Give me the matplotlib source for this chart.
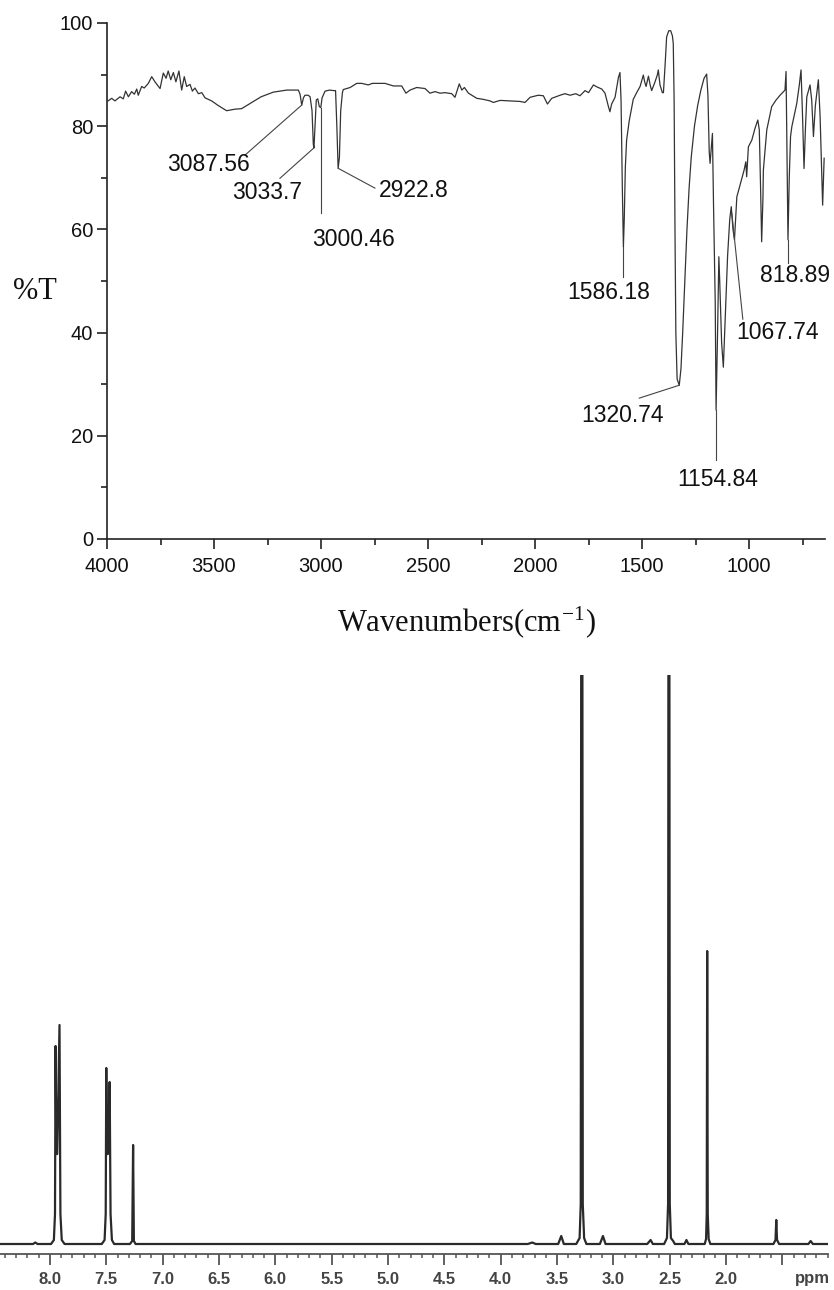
import matplotlib
matplotlib.use("Agg")
import matplotlib.pyplot as plt
from matplotlib.ticker import MultipleLocator, FixedLocator

# ---------------- IR data (wavenumber, %T) ----------------
ir_wn = [3995, 3978, 3963, 3939, 3924, 3913, 3900, 3885, 3872, 3861, 3854, 3838, 3826, 3807,
         3791, 3776, 3752, 3737, 3724, 3714, 3702, 3690, 3678, 3664, 3651, 3639, 3628, 3612,
         3601, 3589, 3573, 3557, 3542, 3511, 3480, 3441, 3402, 3371, 3324, 3280, 3223, 3160,
         3106, 3098, 3090, 3082, 3075, 3060, 3051, 3042, 3036, 3033, 3028, 3022, 3015, 3008,
         3001, 2995, 2981, 2960, 2942, 2932, 2926, 2920, 2914, 2908, 2900, 2896, 2864, 2833,
         2810, 2779, 2760, 2701, 2662, 2623, 2603, 2584, 2553, 2514, 2491, 2467, 2444, 2420,
         2389, 2374, 2354, 2342, 2330, 2311, 2272, 2241, 2210, 2195, 2163, 2117, 2070, 2047,
         2023, 1985, 1961, 1942, 1922, 1883, 1860, 1836, 1810, 1790, 1766, 1750, 1727, 1710,
         1688, 1673, 1657, 1650, 1642, 1626, 1610, 1603, 1598, 1592, 1587, 1583, 1578, 1572,
         1560, 1541, 1525, 1509, 1500, 1494, 1487, 1481, 1470, 1462, 1455, 1440, 1428, 1424,
         1416, 1405, 1400, 1392, 1385, 1375, 1366, 1358, 1354, 1350, 1346, 1342, 1336, 1326,
         1318, 1310, 1300, 1290, 1280, 1270, 1255, 1240, 1225, 1210, 1198, 1192, 1186, 1182,
         1176, 1171, 1166, 1158, 1154, 1147, 1141, 1137, 1128, 1120, 1112, 1100, 1090, 1083,
         1075, 1068, 1060, 1057, 1042, 1023, 1015, 1011, 1003, 987, 972, 959, 952, 946, 941,
         935, 933, 917, 894, 875, 855, 832, 827, 824, 818, 812, 806, 800, 777, 765, 757, 750,
         743, 736, 730, 715, 707, 699, 690, 676, 668, 660, 656, 649]
ir_T = [84.9, 85.4, 84.9, 85.7, 85.3, 86.8, 85.7, 86.7, 86.2, 87.2, 86.0, 87.7, 87.4, 88.3,
        89.6, 88.6, 87.3, 90.3, 89.3, 90.7, 89.0, 90.4, 88.6, 90.7, 87.0, 89.6, 87.7, 88.1,
        86.8, 87.4, 86.3, 86.5, 85.5, 84.9, 84.0, 83.0, 83.3, 83.4, 84.6, 85.7, 86.6, 87.0,
        87.0, 86.2, 84.1, 85.5, 86.0, 86.0, 85.7, 83.0, 76.5, 75.8, 80.0, 85.1, 85.3, 83.8,
        83.6, 85.5, 86.8, 87.0, 86.9, 86.9, 80.0, 71.8, 74.0, 83.0, 86.5, 87.1, 87.5, 88.3,
        88.3, 88.0, 88.3, 88.3, 87.8, 87.8, 86.4, 87.0, 87.5, 87.3, 86.4, 86.7, 86.4, 86.5,
        86.3, 85.6, 88.2, 87.0, 87.5, 86.4, 85.4, 85.2, 84.9, 84.6, 85.0, 84.9, 84.8, 84.6,
        85.6, 86.0, 85.9, 84.3, 85.4, 86.0, 86.3, 86.0, 86.3, 85.9, 86.9, 86.5, 88.0, 87.6,
        87.2, 86.4, 83.8, 82.8, 84.3, 85.6, 89.5, 90.4, 85.0, 68.0, 56.6, 62.0, 72.0, 77.3,
        81.0, 85.2, 86.5, 87.7, 89.0, 89.9, 88.5, 87.7, 89.7, 88.0, 86.9, 88.5, 90.0, 90.9,
        88.0, 86.5, 86.5, 92.0, 97.3, 98.5, 98.5, 97.5, 96.0, 85.0, 60.0, 40.0, 31.0, 29.8,
        33.0, 40.0, 50.0, 60.0, 68.0, 74.0, 80.0, 84.0, 87.0, 89.3, 90.1, 86.0, 75.0, 72.8,
        76.0, 78.6, 65.0, 46.0, 25.0, 40.0, 54.7, 50.0, 38.0, 33.3, 42.0, 55.0, 62.0, 64.4,
        60.0, 58.0, 64.0, 66.3, 68.6, 71.5, 73.1, 70.2, 76.0, 77.3, 79.6, 81.2, 79.3, 68.0, 57.6,
        66.0, 71.5, 79.3, 83.8, 85.0, 86.0, 87.0, 90.6, 80.0, 58.0, 70.0, 78.0, 79.9, 84.4, 88.0, 90.9, 82.0,
        71.8, 80.0, 85.7, 88.0, 85.0, 78.0, 84.0, 89.0, 82.0, 70.0, 64.7, 73.8]

# IR peak annotations
ir_labels = ["3087.56", "3033.7", "3000.46", "2922.8", "1586.18",
             "818.89", "1067.74", "1320.74", "1154.84"]
ir_peak_wn = [3090, 3033, 3001, 2918, 1587, 818, 1080, 1326, 1154]
ir_peak_T = [84.1, 75.8, 83.6, 71.8, 56.6, 58.0, 63.0, 29.8, 25.0]

# ---------------- 1H NMR data (ppm, intensity) ----------------
nmr_ppm = [8.44, 8.15, 8.13, 8.11, 7.99, 7.965, 7.955, 7.950, 7.943, 7.935, 7.915, 7.907, 7.895,
           7.87, 7.54, 7.515, 7.505, 7.500, 7.493, 7.485, 7.470, 7.462, 7.45, 7.43,
           7.29, 7.27, 7.262, 7.255, 7.24, 3.76, 3.72, 3.69, 3.49, 3.463, 3.44,
           3.33, 3.30, 3.29, 3.280, 3.272, 3.26, 3.24, 3.12, 3.093, 3.07,
           2.70, 2.67, 2.65, 2.55, 2.525, 2.515, 2.508, 2.500, 2.49, 2.47, 2.455,
           2.37, 2.352, 2.335, 2.19, 2.178, 2.172, 2.168, 2.163, 2.155, 2.14,
           1.58, 1.562, 1.555, 1.548, 1.53, 1.27, 1.25, 1.23, 1.096]
nmr_int = [0, 0, 1.5, 0, 0, 4, 30, 198, 90, 90, 219, 30, 4,
           0, 0, 4, 30, 176, 90, 90, 162, 30, 4, 0,
           0, 3, 99, 3, 0, 0, 1.5, 0, 0, 8, 0,
           0, 6, 40, 1400, 40, 6, 0, 0, 8, 0,
           0, 4, 0, 0, 6, 40, 1400, 40, 6, 3, 0,
           0, 4, 0, 0, 5, 30, 293, 30, 5, 0,
           0, 4, 24, 4, 0, 0, 3, 0, 0]
nmr_major = [8.0, 7.5, 7.0, 6.5, 6.0, 5.5, 5.0, 4.5, 4.0, 3.5, 3.0, 2.5, 2.0, 1.5]
nmr_labels = ["8.0", "7.5", "7.0", "6.5", "6.0", "5.5", "5.0", "4.5", "4.0",
              "3.5", "3.0", "2.5", "2.0", ""]

W, H = 834, 1290
fig = plt.figure(figsize=(W / 100, H / 100), dpi=100)
plt.rcParams['mathtext.fontset'] = 'stix'

def fx(px):
    return px / W

def fy(py):
    return 1 - py / H

# ---------------- IR axes ----------------
ax1 = fig.add_axes([fx(107), fy(539), fx(825) - fx(107), fy(23) - fy(539)])
ax1.patch.set_alpha(0)
ax1.plot(ir_wn, ir_T, color='#333333', lw=0.9)
ax1.set_xlim(4000, 645)
ax1.set_ylim(0, 100)
for s in ['top', 'right']:
    ax1.spines[s].set_visible(False)
for s in ['left', 'bottom']:
    ax1.spines[s].set_linewidth(1.2)
    ax1.spines[s].set_color('#222222')
ax1.xaxis.set_major_locator(FixedLocator([4000, 3500, 3000, 2500, 2000, 1500, 1000]))
ax1.xaxis.set_minor_locator(FixedLocator([3750, 3250, 2750, 2250, 1750, 1250, 750]))
ax1.yaxis.set_major_locator(MultipleLocator(20))
ax1.yaxis.set_minor_locator(MultipleLocator(10))
ax1.tick_params(which='major', direction='out', length=7, width=1.2, color='#222222',
                labelsize=14.5, pad=3)
ax1.tick_params(axis='x', which='major', pad=6)
ax1.tick_params(which='minor', direction='out', length=4, width=1.2, color='#222222')
for lab in ax1.get_xticklabels() + ax1.get_yticklabels():
    lab.set_fontfamily('Liberation Sans')
    lab.set_color('#111111')

label_pos = [(3528, 72.5), (3250, 67.1), (2850, 58.1), (2565, 67.6), (1654, 47.7),
             (785, 51.0), (869, 40.1), (1589, 24.0), (1145, 11.6)]
leader_end = [(3355, 74.4), (3192, 69.9), (3001, 63.1), (2748, 68.0), (1587, 50.8),
              (818, 53.5), (1029, 42.6), (1513, 27.3), (1154, 15.3)]
for lab, pw, pt, le, lp in zip(ir_labels, ir_peak_wn, ir_peak_T, leader_end, label_pos):
    ax1.plot([pw, le[0]], [pt, le[1]], color='#444444', lw=0.8, clip_on=False)
    ax1.text(lp[0], lp[1], lab, ha='center', va='center', fontsize=16.5,
             family='Liberation Sans', color='#111111', clip_on=False)

fig.text(fx(35), fy(291), '%T', ha='center', va='center', fontsize=22,
         family='Liberation Serif', color='#111111')
fig.text(fx(466), fy(632), 'Wavenumbers(cm$^{\\mathregular{-1}}$)', ha='center', va='baseline',
         fontsize=22, family='Liberation Serif', color='#111111')

# ---------------- NMR axes ----------------
ax2 = fig.add_axes([0, fy(1254), fx(828), fy(675) - fy(1254)])
ax2.patch.set_alpha(0)
ax2.plot(nmr_ppm, nmr_int, color='#2a2a2a', lw=1.6, solid_joinstyle='round')
ax2.set_xlim(8.443, 1.096)
ax2.set_ylim(-10, 569)
for s in ['top', 'right', 'left']:
    ax2.spines[s].set_visible(False)
ax2.spines['bottom'].set_linewidth(1.3)
ax2.spines['bottom'].set_color('#555555')
ax2.set_yticks([])
ax2.xaxis.set_major_locator(FixedLocator(nmr_major))
ax2.set_xticklabels(nmr_labels)
ax2.xaxis.set_minor_locator(MultipleLocator(0.1))
ax2.tick_params(which='major', direction='out', length=8, width=1.3, color='#555555',
                labelsize=12, pad=5)
ax2.tick_params(which='minor', direction='out', length=3, width=1.1, color='#555555')
for lab in ax2.get_xticklabels():
    lab.set_fontfamily('Liberation Sans')
    lab.set_fontweight('bold')
    lab.set_color('#444444')
fig.text(fx(812), fy(1278), 'ppm', ha='center', va='center', fontsize=12,
         family='Liberation Sans', fontweight='bold', color='#444444')

fig.savefig('out.png', dpi=100)
